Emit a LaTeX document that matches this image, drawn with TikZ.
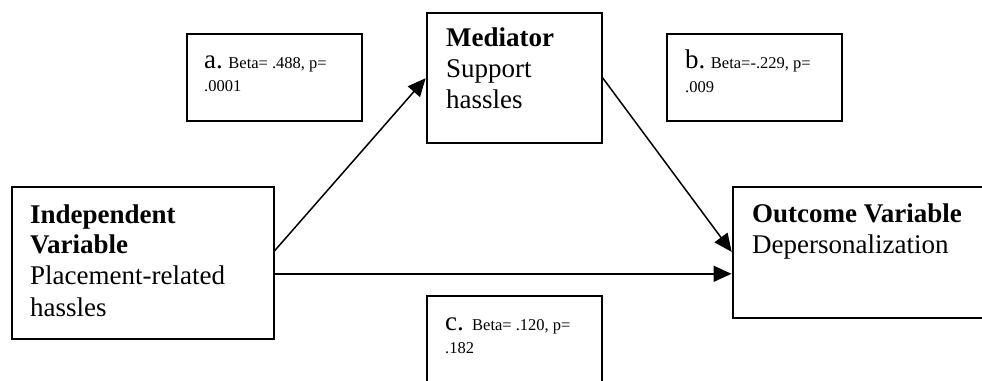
\documentclass[tikz,border=0pt]{standalone}
\usepackage{fontspec}
\setmainfont{Liberation Serif}
\usetikzlibrary{arrows.meta}
\tikzset{
  box/.style={draw=black, line width=1.6pt, rectangle, anchor=north west, inner sep=0pt},
  txt/.style={anchor=base west, inner sep=0pt, font=\fontsize{27}{31}\selectfont},
  small/.style={anchor=base west, inner sep=0pt, font=\fontsize{16.5}{19}\selectfont},
  conn/.style={line width=1.5pt, -{Triangle[length=18pt,width=16pt]}, shorten >=0.5pt}
}
\newcommand{\biglab}[1]{{\fontsize{27}{31}\selectfont #1}}
\begin{document}
\begin{tikzpicture}[x=1pt,y=-1pt]
\useasboundingbox (0,0) rectangle (982,380);
\clip (0,0) rectangle (982,380);
% boxes
\node[box, minimum width=262pt, minimum height=152pt] (ind) at (11,186) {};
\node[box, minimum width=175pt, minimum height=87pt] (a) at (186,33) {};
\node[box, minimum width=175pt, minimum height=130pt] (med) at (426,12) {};
\node[box, minimum width=175pt, minimum height=87pt] (b) at (666,33) {};
\node[box, minimum width=270pt, minimum height=131pt] (out) at (732,186) {};
\node[box, minimum width=175pt, minimum height=100pt] (c) at (426,295) {};
% texts
\node[txt] (t1) at (30,223) {\textbf{Independent}};
\node[txt] (t2) at (30,253) {\textbf{Variable}};
\node[txt] (t3) at (30,284) {Placement-related};
\node[txt] (t4) at (30,316) {hassles};
\node[txt] (m1) at (446,46) {\textbf{Mediator}};
\node[txt] (m2) at (446,77) {Support};
\node[txt] (m3) at (446,108) {hassles};
\node[txt] (o1) at (752,222) {\textbf{Outcome Variable}};
\node[txt] (o2) at (752,253) {Depersonalization};
\node[small] (a1) at (204,68) {\biglab{a.} Beta= .488, p=};
\node[small] (a2) at (204,91) {.0001};
\node[small] (b1) at (685,68) {\biglab{b.} Beta=-.229, p=};
\node[small] (b2) at (685,92) {.009};
\node[small] (c1) at (445,330) {\biglab{c.}\ \ Beta= .120, p=};
\node[small] (c2) at (445,353) {.182};
% connectors
\draw[conn] ([yshift=12pt]ind.east) -- (med.west);
\draw[conn] (med.east) -- (out.west);
\draw[conn] ([yshift=-11pt]ind.east) -- ([yshift=-21.5pt]out.west);
\end{tikzpicture}
\end{document}
